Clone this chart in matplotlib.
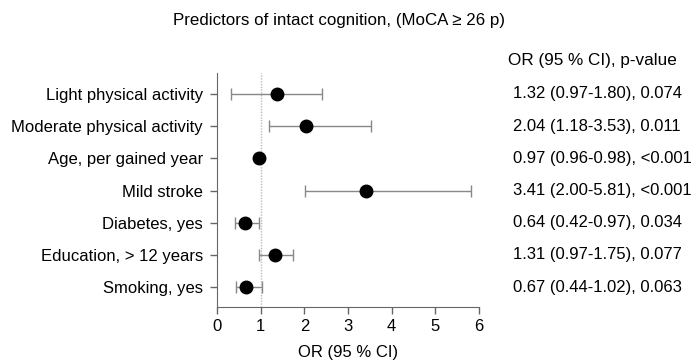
import matplotlib
matplotlib.use("Agg")
import matplotlib.pyplot as plt
from matplotlib.transforms import blended_transform_factory

plt.rcParams['font.family'] = ['Liberation Sans', 'DejaVu Sans']

labels = ["Light physical activity", "Moderate physical activity", "Age, per gained year",
          "Mild stroke", "Diabetes, yes", "Education, > 12 years", "Smoking, yes"]
odds = [1.37, 2.04, 0.97, 3.41, 0.64, 1.32, 0.67]
ci_low = [0.32, 1.18, 0.96, 2.01, 0.42, 0.97, 0.44]
ci_high = [2.40, 3.53, 0.98, 5.81, 0.97, 1.75, 1.02]
result_text = ["1.32 (0.97-1.80), 0.074", "2.04 (1.18-3.53), 0.011", "0.97 (0.96-0.98), <0.001",
               "3.41 (2.00-5.81), <0.001", "0.64 (0.42-0.97), 0.034", "1.31 (0.97-1.75), 0.077",
               "0.67 (0.44-1.02), 0.063"]
xticks = [0, 1, 2, 3, 4, 5, 6]

fig = plt.figure(figsize=(6.93, 3.61), dpi=100)
ax = fig.add_axes([217/693, 1-306.7/361, 262/693, (306.7-72.7)/361])

n = len(labels)
ypos = list(range(n, 0, -1))

ax.axvline(1, color='#bbbbbb', linestyle=(0, (1, 1)), linewidth=1, zorder=1)
xerr = [[o - l for o, l in zip(odds, ci_low)], [h - o for o, h in zip(odds, ci_high)]]
ax.errorbar(odds, ypos, xerr=xerr, fmt='none', ecolor='#888888', elinewidth=1,
            capsize=4, capthick=1, zorder=2)
ax.plot(odds, ypos, 'o', color='black', markersize=9, zorder=3)

ax.set_xlim(0, 6)
ax.set_ylim(0.39, n + 0.66)
ax.set_xticks(xticks)
ax.set_xticklabels([str(t) for t in xticks], fontsize=12)
ax.set_yticks(ypos)
ax.set_yticklabels(labels, fontsize=12)
ax.tick_params(axis='both', color='#666666', length=5, width=1)
ax.tick_params(axis='y', pad=5)
for s in ['top', 'right']:
    ax.spines[s].set_visible(False)
for s in ['left', 'bottom']:
    ax.spines[s].set_color('#666666')
ax.set_xlabel("OR (95 % CI)", fontsize=12, labelpad=8)

trans = blended_transform_factory(ax.transAxes, ax.transData)
xt = (513 - 217) / 262
xh = (508 - 217) / 262
for y, t in zip(ypos, result_text):
    ax.text(xt, y, t, transform=trans, fontsize=12, va='center', ha='left', clip_on=False)
ax.text(xh, n + 1.03, "OR (95 % CI), p-value", transform=trans, fontsize=12.3,
        va='center', ha='left', clip_on=False)

fig.text(339/693, 1 - 20/361, "Predictors of intact cognition, (MoCA \u2265 26 p)",
         fontsize=12.2, ha='center', va='center')

fig.savefig("out.png", dpi=100)
